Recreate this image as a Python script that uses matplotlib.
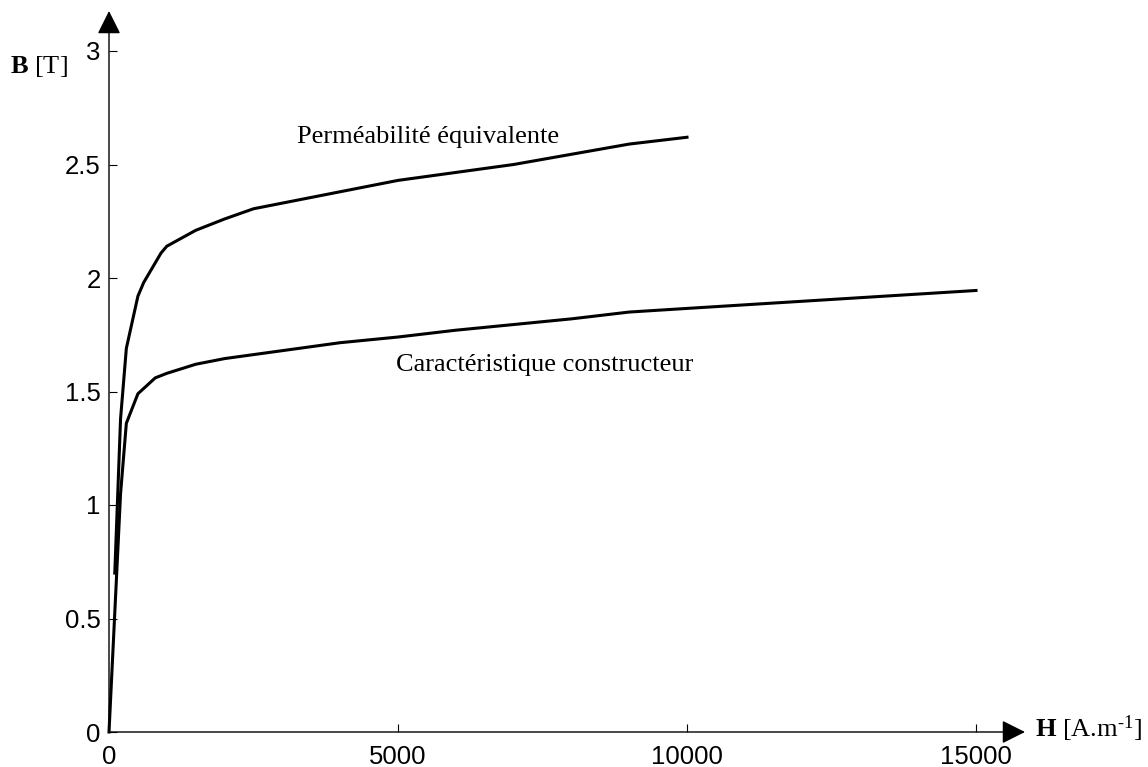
import numpy as np
import matplotlib
matplotlib.use('Agg')
import matplotlib.pyplot as plt

plt.rcParams['font.family'] = 'Liberation Sans'
plt.rcParams['mathtext.fontset'] = 'custom'
plt.rcParams['mathtext.rm'] = 'Liberation Serif'
plt.rcParams['mathtext.bf'] = 'Liberation Serif:bold'
plt.rcParams['mathtext.it'] = 'Liberation Serif:italic'

# B(H) curves
h_equiv = [100, 200, 300, 500, 600, 900, 1000, 1500, 2000, 2500, 3000,
           4000, 5000, 6000, 7000, 8000, 9000, 10000]
b_equiv = [0.70, 1.38, 1.69, 1.92, 1.98, 2.11, 2.14, 2.21, 2.26, 2.305, 2.33,
           2.38, 2.43, 2.465, 2.50, 2.545, 2.59, 2.62]

h_constr = [0, 200, 300, 500, 800, 1000, 1500, 2000, 3000, 4000, 5000,
            6000, 7000, 8000, 9000, 10000, 15000]
b_constr = [0.0, 1.05, 1.36, 1.49, 1.56, 1.58, 1.62, 1.645, 1.68, 1.715, 1.74,
            1.77, 1.795, 1.82, 1.85, 1.866, 1.945]

x_ticks = [0, 5000, 10000, 15000]
y_ticks = [0, 0.5, 1, 1.5, 2, 2.5, 3]
y_labels = ['0', '0.5', '1', '1.5', '2', '2.5', '3']

fig = plt.figure(figsize=(11.48, 7.67), dpi=100)
ax = fig.add_axes([109 / 1148, 1 - 732 / 767, 867 / 1148, 681 / 767])

ax.plot(h_equiv, b_equiv, color='black', lw=2.2, clip_on=False)
ax.plot(h_constr, b_constr, color='black', lw=2.2, clip_on=False)

ax.set_xlim(0, 15000)
ax.set_ylim(0, 3)
ax.set_xticks(x_ticks)
ax.set_xticklabels([str(v) for v in x_ticks])
ax.set_yticks(y_ticks)
ax.set_yticklabels(y_labels)
ax.tick_params(direction='in', length=6, width=0.8, labelsize=18.5)
ax.tick_params(axis='x', pad=9)
ax.tick_params(axis='y', pad=6)

for s in ax.spines.values():
    s.set_visible(False)

# axes drawn as arrows
arrow = dict(arrowstyle='-|>,head_length=1.0,head_width=0.5', color='black',
             lw=1.0, mutation_scale=14.4, shrinkA=0, shrinkB=0)
ax.annotate('', xy=(0, 1 + 40 / 681), xytext=(0, 0), xycoords='axes fraction',
            textcoords='axes fraction', arrowprops=arrow, annotation_clip=False)
ax.annotate('', xy=(1 + 49 / 867, 0), xytext=(0, 0), xycoords='axes fraction',
            textcoords='axes fraction', arrowprops=arrow, annotation_clip=False)

serif = 'Liberation Serif'
ax.text(3250, 2.595, 'Perméabilité équivalente', family=serif, fontsize=19,
        ha='left', va='baseline')
ax.text(4960, 1.59, 'Caractéristique constructeur', family=serif, fontsize=19,
        ha='left', va='baseline')

fig.text(10 / 1148, 1 - 73 / 767, r'$\mathbf{B}$ [T]', family=serif,
         fontsize=19, ha='left', va='baseline')
fig.text(1035 / 1148, 1 - 737 / 767, r'$\mathbf{H}$ [A.m$^{\text{-1}}$]',
         family=serif, fontsize=19, ha='left', va='baseline')

fig.savefig('out.png', dpi=100)
